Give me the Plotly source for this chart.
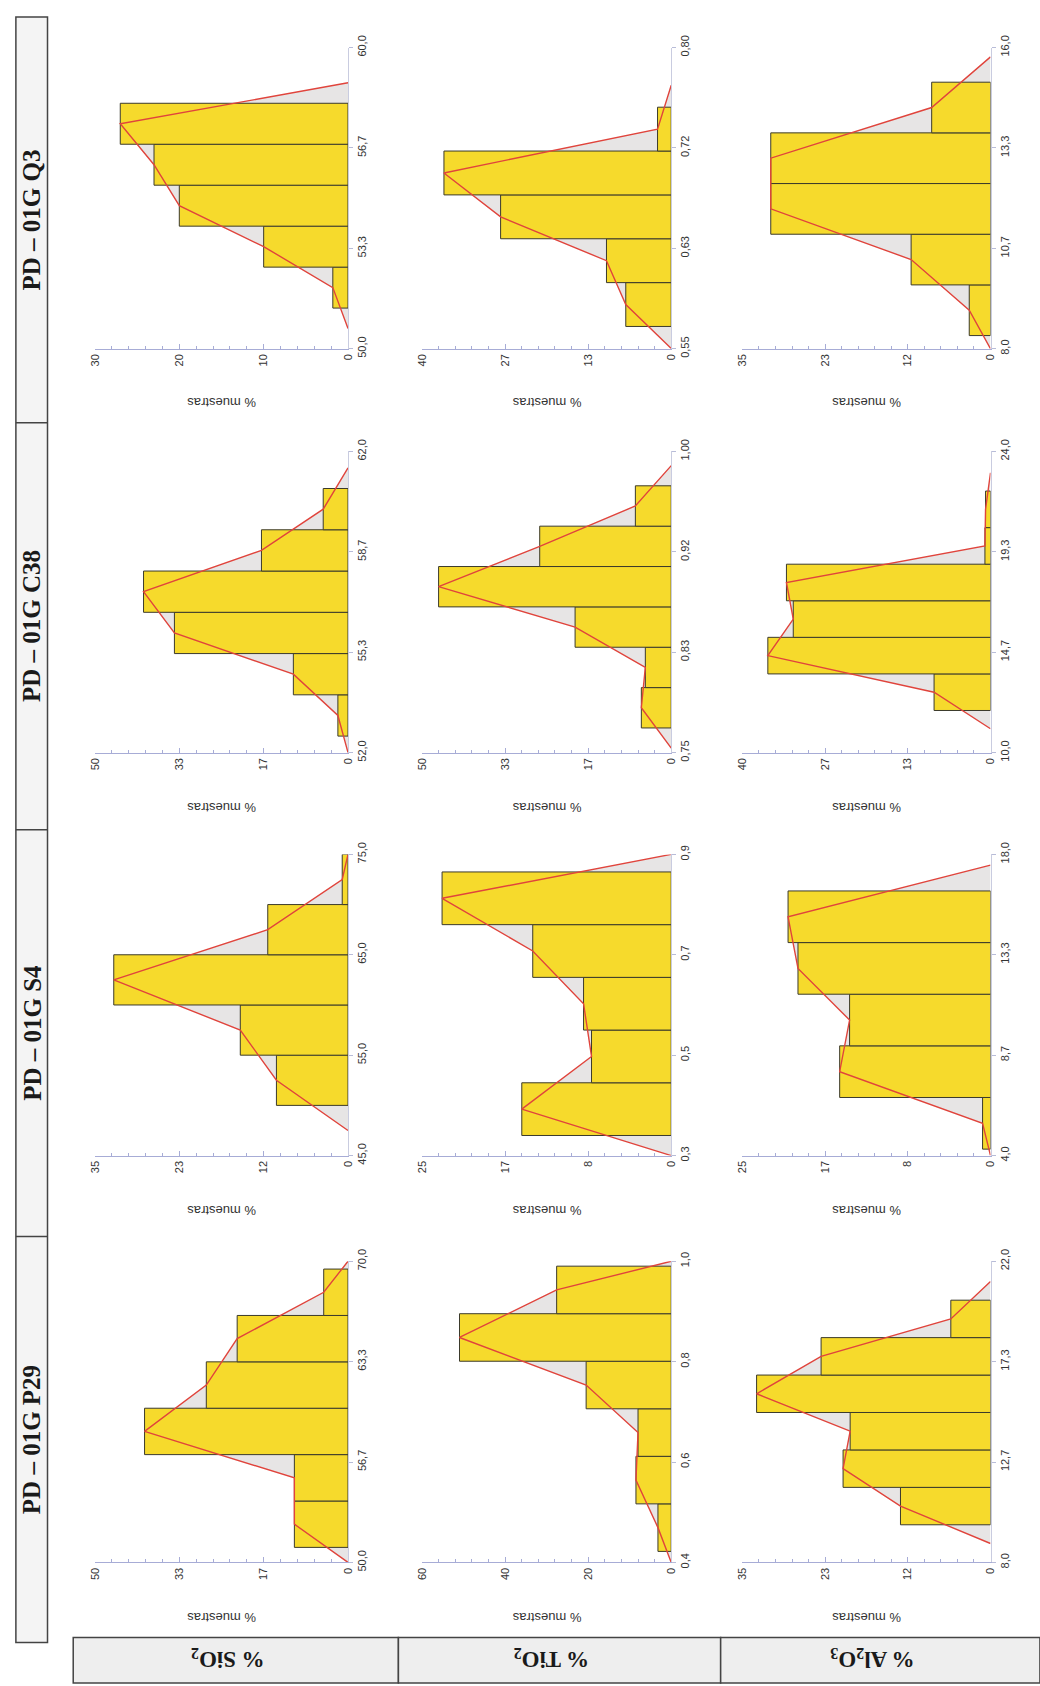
import plotly.graph_objects as go

W, H = 1040, 1686

# ---------------- data ----------------
SAMPLES = ["PD – 01G Q3", "PD – 01G C38", "PD – 01G S4", "PD – 01G P29"]
OXIDES = ["% SiO<sub>2</sub>", "% TiO<sub>2</sub>", "% Al<sub>2</sub>O<sub>3</sub>"]

# % of samples per class (bottom class first)
Q3_SIO2 = [1.8, 10.0, 20.0, 23.0, 27.0]
Q3_TIO2 = [7.3, 10.4, 27.4, 36.5, 2.2]
Q3_AL2O3 = [3.0, 11.2, 31.0, 31.0, 8.3]
C38_SIO2 = [2.0, 10.8, 34.3, 40.4, 17.1, 4.9]
C38_TIO2 = [6.0, 5.2, 19.3, 46.7, 26.4, 7.2]
C38_AL2O3 = [9.1, 35.9, 31.8, 32.9, 0.9, 0.8]
S4_SIO2 = [9.9, 14.9, 32.4, 11.1, 0.8]
S4_TIO2 = [15.0, 8.0, 8.8, 13.9, 23.0]
S4_AL2O3 = [0.8, 15.2, 14.2, 19.4, 20.4]
P29_SIO2 = [10.6, 10.6, 40.2, 28.0, 21.9, 4.8]
P29_TIO2 = [3.2, 8.5, 8.0, 20.5, 51.0, 27.6]
P29_AL2O3 = [12.7, 20.8, 19.8, 33.0, 23.9, 5.6]

# lower edge of first class and class width
Q3_BINS = [(51.35, 1.36), (0.5685, 0.0364), (8.35, 1.346)]
C38_BINS = [(52.55, 1.37), (0.7705, 0.0335), (11.96, 1.70)]
S4_BINS = [(50.0, 5.0), (0.34, 0.105), (4.3, 2.4)]
P29_BINS = [(51.0, 3.08), (0.422, 0.0947), (9.75, 1.74)]

# oxide-content axis ranges and tick labels
Q3_RANGE = [(50, 60), (0.55, 0.80), (8, 16)]
C38_RANGE = [(52, 62), (0.75, 1.00), (10, 24)]
S4_RANGE = [(45, 75), (0.3, 0.9), (4, 18)]
P29_RANGE = [(50, 70), (0.4, 1.0), (8, 22)]
Q3_LABELS = [["50,0", "53,3", "56,7", "60,0"], ["0,55", "0,63", "0,72", "0,80"], ["8,0", "10,7", "13,3", "16,0"]]
C38_LABELS = [["52,0", "55,3", "58,7", "62,0"], ["0,75", "0,83", "0,92", "1,00"], ["10,0", "14,7", "19,3", "24,0"]]
S4_LABELS = [["45,0", "55,0", "65,0", "75,0"], ["0,3", "0,5", "0,7", "0,9"], ["4,0", "8,7", "13,3", "18,0"]]
P29_LABELS = [["50,0", "56,7", "63,3", "70,0"], ["0,4", "0,6", "0,8", "1,0"], ["8,0", "12,7", "17,3", "22,0"]]

# % muestras axis maxima and labels
Q3_PCT = [(30, ["0", "10", "20", "30"]), (40, ["0", "13", "27", "40"]), (35, ["0", "12", "23", "35"])]
C38_PCT = [(50, ["0", "17", "33", "50"]), (50, ["0", "17", "33", "50"]), (40, ["0", "13", "27", "40"])]
S4_PCT = [(35, ["0", "12", "23", "35"]), (25, ["0", "8", "17", "25"]), (25, ["0", "8", "17", "25"])]
P29_PCT = [(50, ["0", "17", "33", "50"]), (60, ["0", "20", "40", "60"]), (35, ["0", "12", "23", "35"])]

VALUES = [[Q3_SIO2, Q3_TIO2, Q3_AL2O3], [C38_SIO2, C38_TIO2, C38_AL2O3],
          [S4_SIO2, S4_TIO2, S4_AL2O3], [P29_SIO2, P29_TIO2, P29_AL2O3]]
BINS = [Q3_BINS, C38_BINS, S4_BINS, P29_BINS]
RANGES = [Q3_RANGE, C38_RANGE, S4_RANGE, P29_RANGE]
LABELS = [Q3_LABELS, C38_LABELS, S4_LABELS, P29_LABELS]
PCTS = [Q3_PCT, C38_PCT, S4_PCT, P29_PCT]

# ---------------- layout geometry (pixels) ----------------
COLS = [(90, 346), (421, 673), (745, 996)]
ROWS = [(36, 341), (445, 750), (853, 1158), (1265, 1570)]  # (top, bottom)
STRIP = (10, 42)
STRIP_Y = [5, 416, 828, 1240, 1651]
BOX_Y = (1646, 1692)
BOX_X = [68, 397, 723, 1046]

YELLOW = "#F6DA2C"
EDGE = "#3b3a2c"
POLY_FILL = "#E7E5E5"
RED = "#E0443C"
AXIS = "#A7ACD6"
TXT = "#333333"


def px(x):
    return x / W


def py(y):
    return 1 - y / H


fig = go.Figure()
layout = {}
annotations = []
shapes = []

for r in range(4):
    for c in range(3):
        k = r * 3 + c + 1
        xa = "x" if k == 1 else f"x{k}"
        ya = "y" if k == 1 else f"y{k}"
        vals = VALUES[r][c]
        start, w = BINS[r][c]
        lo, hi = RANGES[r][c]
        pmax, ptxt = PCTS[r][c]
        n = len(vals)
        centers = [start + (i + 0.5) * w for i in range(n)]
        # frequency polygon: zero points at the neighbouring class midpoints,
        # held inside the axis range
        poly_y = [max(start - 0.5 * w, lo)] + centers + [min(start + (n + 0.5) * w, hi)]
        poly_x = [0] + list(vals) + [0]

        # light grey area under the frequency polygon, kept beneath the bars
        path = "M " + " L ".join(f"{a},{b}" for a, b in zip(poly_x, poly_y)) + " Z"
        shapes.append(dict(type="path", path=path, xref=xa, yref=ya,
                           fillcolor=POLY_FILL, line=dict(width=0), layer="below"))

        fig.add_trace(go.Bar(x=vals, y=centers, width=[w] * n, orientation="h",
                             marker=dict(color=YELLOW, line=dict(color=EDGE, width=1)),
                             xaxis=xa, yaxis=ya))
        fig.add_trace(go.Scatter(x=poly_x, y=poly_y, mode="lines",
                                 line=dict(color=RED, width=1.4),
                                 xaxis=xa, yaxis=ya, hoverinfo="skip"))

        x0, x1 = COLS[c]
        top, bot = ROWS[r]
        kx = "xaxis" if k == 1 else f"xaxis{k}"
        ky = "yaxis" if k == 1 else f"yaxis{k}"
        layout[kx] = dict(
            domain=[px(x0), px(x1)], anchor=ya, range=[pmax, 0],
            tickmode="array", tickvals=[pmax * i / 3 for i in range(4)], ticktext=ptxt,
            tickangle=-90, ticks="inside", ticklen=5, tickcolor=AXIS,
            minor=dict(ticks="inside", ticklen=3, tickcolor=AXIS, tick0=0, dtick=pmax / 15),
            showline=True, linecolor=AXIS, linewidth=1,
            showgrid=False, zeroline=False,
            tickfont=dict(size=11, color=TXT, family="Liberation Sans"),
        )
        layout[ky] = dict(
            domain=[py(bot), py(top)], anchor=xa, side="right", range=[lo, hi],
            tickmode="array", tickvals=[lo + (hi - lo) * i / 3 for i in range(4)],
            ticktext=LABELS[r][c], tickangle=-90, ticks="outside", ticklen=4,
            tickcolor="#B8BCD8", showline=True, linecolor="#C9CCE0", linewidth=1,
            showgrid=False, zeroline=False,
            tickfont=dict(size=11, color=TXT, family="Liberation Sans"),
        )
        annotations.append(dict(
            text="% muestras", textangle=180, x=px((x0 + x1) / 2), y=py(bot + 55),
            xref="paper", yref="paper", xanchor="center", yanchor="middle", showarrow=False,
            font=dict(size=13, color=TXT, family="Liberation Sans")))

# left strip with sample names
shapes.append(dict(type="rect", xref="paper", yref="paper",
                   x0=px(STRIP[0]), x1=px(STRIP[1]), y0=py(STRIP_Y[-1]), y1=py(STRIP_Y[0]),
                   fillcolor="#F4F4F4", line=dict(color="#444444", width=1.5), layer="below"))
for yy in STRIP_Y[1:-1]:
    shapes.append(dict(type="line", xref="paper", yref="paper",
                       x0=px(STRIP[0]), x1=px(STRIP[1]), y0=py(yy), y1=py(yy),
                       line=dict(color="#444444", width=1.5)))
for i, s in enumerate(SAMPLES):
    yc = (STRIP_Y[i] + STRIP_Y[i + 1]) / 2
    annotations.append(dict(
        text=f"<b>{s}</b>", textangle=-90, x=px((STRIP[0] + STRIP[1]) / 2), y=py(yc),
        xref="paper", yref="paper", xanchor="center", yanchor="middle", showarrow=False,
        font=dict(size=25, color="#1a1a1a", family="Liberation Serif")))

# bottom boxes with oxide names
for i, o in enumerate(OXIDES):
    shapes.append(dict(type="rect", xref="paper", yref="paper",
                       x0=px(BOX_X[i]), x1=px(BOX_X[i + 1]), y0=py(BOX_Y[1]), y1=py(BOX_Y[0]),
                       fillcolor="#EEEEEE", line=dict(color="#444444", width=1.5), layer="below"))
    annotations.append(dict(
        text=f"<b>{o}</b>", textangle=180, x=px((BOX_X[i] + BOX_X[i + 1]) / 2 - 8), y=py(1667),
        xref="paper", yref="paper", xanchor="center", yanchor="middle", showarrow=False,
        font=dict(size=23, color="#1a1a1a", family="Liberation Serif")))

fig.update_layout(
    width=W, height=H, margin=dict(l=0, r=0, t=0, b=0),
    paper_bgcolor="white", plot_bgcolor="white", showlegend=False,
    barmode="overlay", annotations=annotations, shapes=shapes,
    font=dict(family="Liberation Sans"),
    **layout,
)

fig.write_html("out.html")
